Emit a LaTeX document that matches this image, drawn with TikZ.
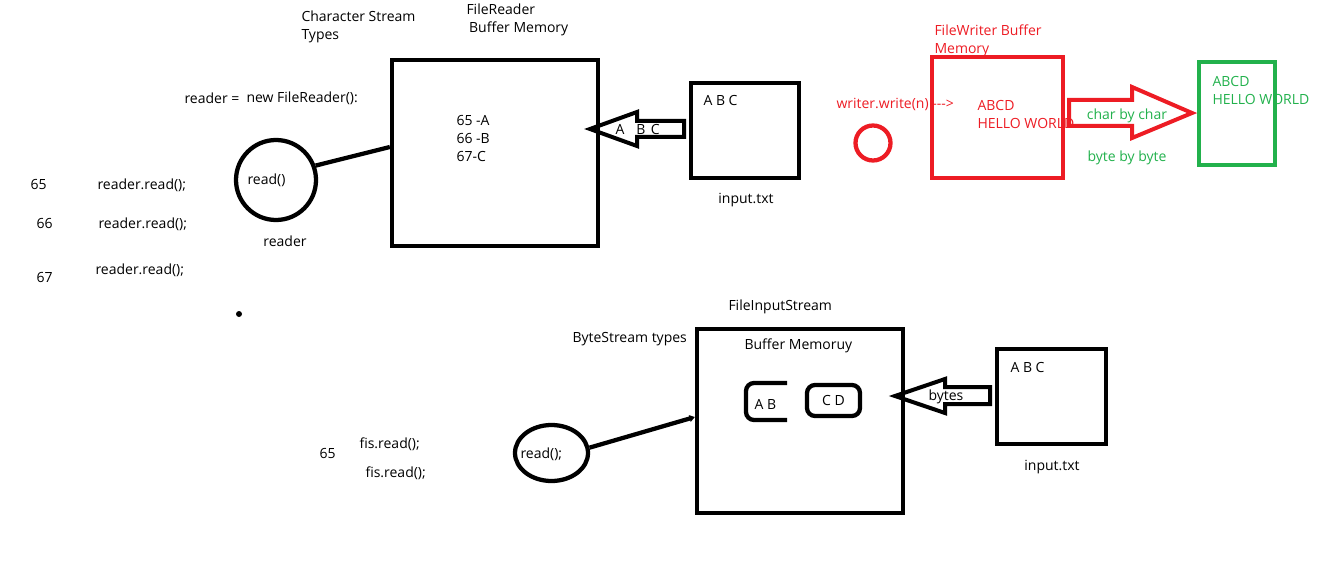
\documentclass[tikz,border=0pt]{standalone}
\usepackage{fontspec}
\setmainfont{Open Sans}
\usetikzlibrary{shapes.geometric,arrows.meta}
\definecolor{pred}{RGB}{237,28,36}
\definecolor{pgreen}{RGB}{34,177,76}
\tikzset{every picture/.style={line width=0.75pt}}

\begin{document}
\begin{tikzpicture}[x=0.75pt,y=0.75pt,yscale=-1,xscale=1,
	txt/.style={inner sep=0pt,font=\fontsize{10.5}{13.5}\selectfont,align=left},
	lbl/.style={txt,anchor=west},
	box/.style={draw,line width=3.2pt,inner sep=0pt},
	hollow/.style={draw,line width=3pt,line join=miter}]
	\useasboundingbox (0,0) rectangle (1330,574);

	%Shape: Rectangle [FileReader buffer]
	\node[box,minimum width=154.5pt,minimum height=139.5pt] (frbox) at (495,153) {};
	%Shape: Rectangle [input.txt]
	\node[box,minimum width=81pt,minimum height=71.25pt] (inbox) at (745,130.5) {};
	%Shape: Circle [read()]
	\node[box,circle,minimum size=60pt] (readc) at (276,180) {};
	%Straight Lines
	\draw[line width=3.2pt] (readc.20) -- ([yshift=-4.5pt]frbox.west);
	%Shape: Arrow
	\draw[hollow] (590,129) -- (637,112) -- (637,121) -- (684,121) -- (684,137) -- (637,137) -- (637,146) -- cycle;
	%Shape: Circle [dot]
	\fill (239,314) circle (2.25pt);

	% Text Node
	\node[lbl] (chst) at (301,27) {Character Stream\\Types};
	% Text Node
	\node[lbl] (frlbl) at (466,20) {FileReader\\\hspace{2pt}Buffer Memory};
	% Text Node
	\node[lbl] (rdeq) at (184,98) {reader =};
	% Text Node
	\node[lbl] (newfr) at (246,98) {new FileReader():};
	% Text Node
	\node[lbl] (rdtxt) at (247,180) {read()};
	% Text Node
	\node[txt] (rdname) at (285,241) {reader};
	% Text Node
	\node[lbl] (num1) at (30,184) {65};
	\node[lbl] (num2) at (36,223) {66};
	\node[lbl] (num3) at (36,277) {67};
	% Text Node
	\node[lbl] (rd1) at (97,185) {reader.read();};
	\node[lbl] (rd2) at (98,224) {reader.read();};
	\node[lbl] (rd3) at (95,270) {reader.read();};
	% Text Node
	\node[lbl] (codes) at (456,138) {65 -A\\66 -B\\67-C};
	% Text Node
	\node[lbl] (abc1) at (615,130) {A\hspace{9pt}B\hspace{4pt}C};
	% Text Node
	\node[lbl] (intxt) at (703,101) {A B C};
	% Text Node
	\node[txt] (inname) at (746,200) {input.txt};

	% Text Node
	\node[lbl,text=pred] (fwlbl) at (934,41) {FileWriter Buffer\\Memory};
	%Shape: Rectangle [FileWriter buffer]
	\node[box,draw=pred,minimum width=98.25pt,minimum height=90.75pt] (wrbox) at (997.5,117.5) {};
	%Shape: Rectangle [output]
	\node[box,draw=pgreen,minimum width=57pt,minimum height=77.25pt] (outbox) at (1237,113.5) {};
	%Shape: Circle [writer]
	\node[box,circle,draw=pred,minimum size=26.25pt] (wrc) at (873,143) {};
	%Shape: Arrow
	\draw[hollow,draw=pred] (1192,113) -- (1132,87) -- (1132,100) -- (1069,100) -- (1069,126) -- (1132,126) -- (1132,138) -- cycle;

	% Text Node
	\node[lbl,text=pred] (wrcall) at (836,104) {writer.write(n) -{}-{}->};
	% Text Node
	\node[lbl,text=pred] (wrtxt) at (977,115) {ABCD\\HELLO WORLD};
	% Text Node
	\node[txt,text=pgreen] (cbc) at (1127,116) {char by char};
	% Text Node
	\node[txt,text=pgreen] (bbb) at (1127,158) {byte by byte};
	% Text Node
	\node[lbl,text=pgreen] (outtxt) at (1212,91) {ABCD\\HELLO WORLD};

	%Shape: Rectangle [FileInputStream buffer]
	\node[box,minimum width=154.5pt,minimum height=138pt] (fisbox) at (800,421) {};
	%Shape: Rectangle [input.txt]
	\node[box,minimum width=81.75pt,minimum height=71.25pt] (inbox2) at (1051.5,396.5) {};
	%Shape: Rectangle [C D]
	\node[box,rounded corners=6pt,minimum width=39.75pt,minimum height=23.25pt,txt] (cdbox) at (833.5,400.5) {C D};
	%Shape: Bracket [A B]
	\draw[line width=3.2pt,rounded corners=6pt] (787,383) -- (746,383) -- (746,420) -- (787,420);
	%Shape: Ellipse [read();]
	\node[box,ellipse,minimum width=54.75pt,minimum height=42pt] (fisc) at (551.5,453) {};
	%Straight Lines
	\draw[line width=3.2pt,-{Triangle[length=4pt,width=5pt]}] (fisc.8) -- ([yshift=-3pt]fisbox.west);
	%Shape: Arrow
	\draw[hollow] (895,396) -- (945,379) -- (945,387) -- (990,387) -- (990,404) -- (945,404) -- (945,413) -- cycle;

	% Text Node
	\node[lbl] (fislbl) at (728,307) {FileInputStream};
	% Text Node
	\node[lbl] (bstyp) at (572,339) {ByteStream types};
	% Text Node
	\node[lbl] (bufmem) at (744,346) {Buffer Memoruy};
	% Text Node
	\node[lbl] (abtxt) at (754,404) {A B};
	% Text Node
	\node[lbl] (bytes) at (928,397) {bytes};
	% Text Node
	\node[lbl] (intxt2) at (1010,367) {A B C};
	% Text Node
	\node[txt] (inname2) at (1052,467) {input.txt};
	% Text Node
	\node[lbl] (fisrd) at (520,454) {read();};
	% Text Node
	\node[lbl] (num4) at (319,453) {65};
	\node[lbl] (fis1) at (359,444) {fis.read();};
	\node[lbl] (fis2) at (365,473) {fis.read();};

	\end{tikzpicture}
\end{document}
